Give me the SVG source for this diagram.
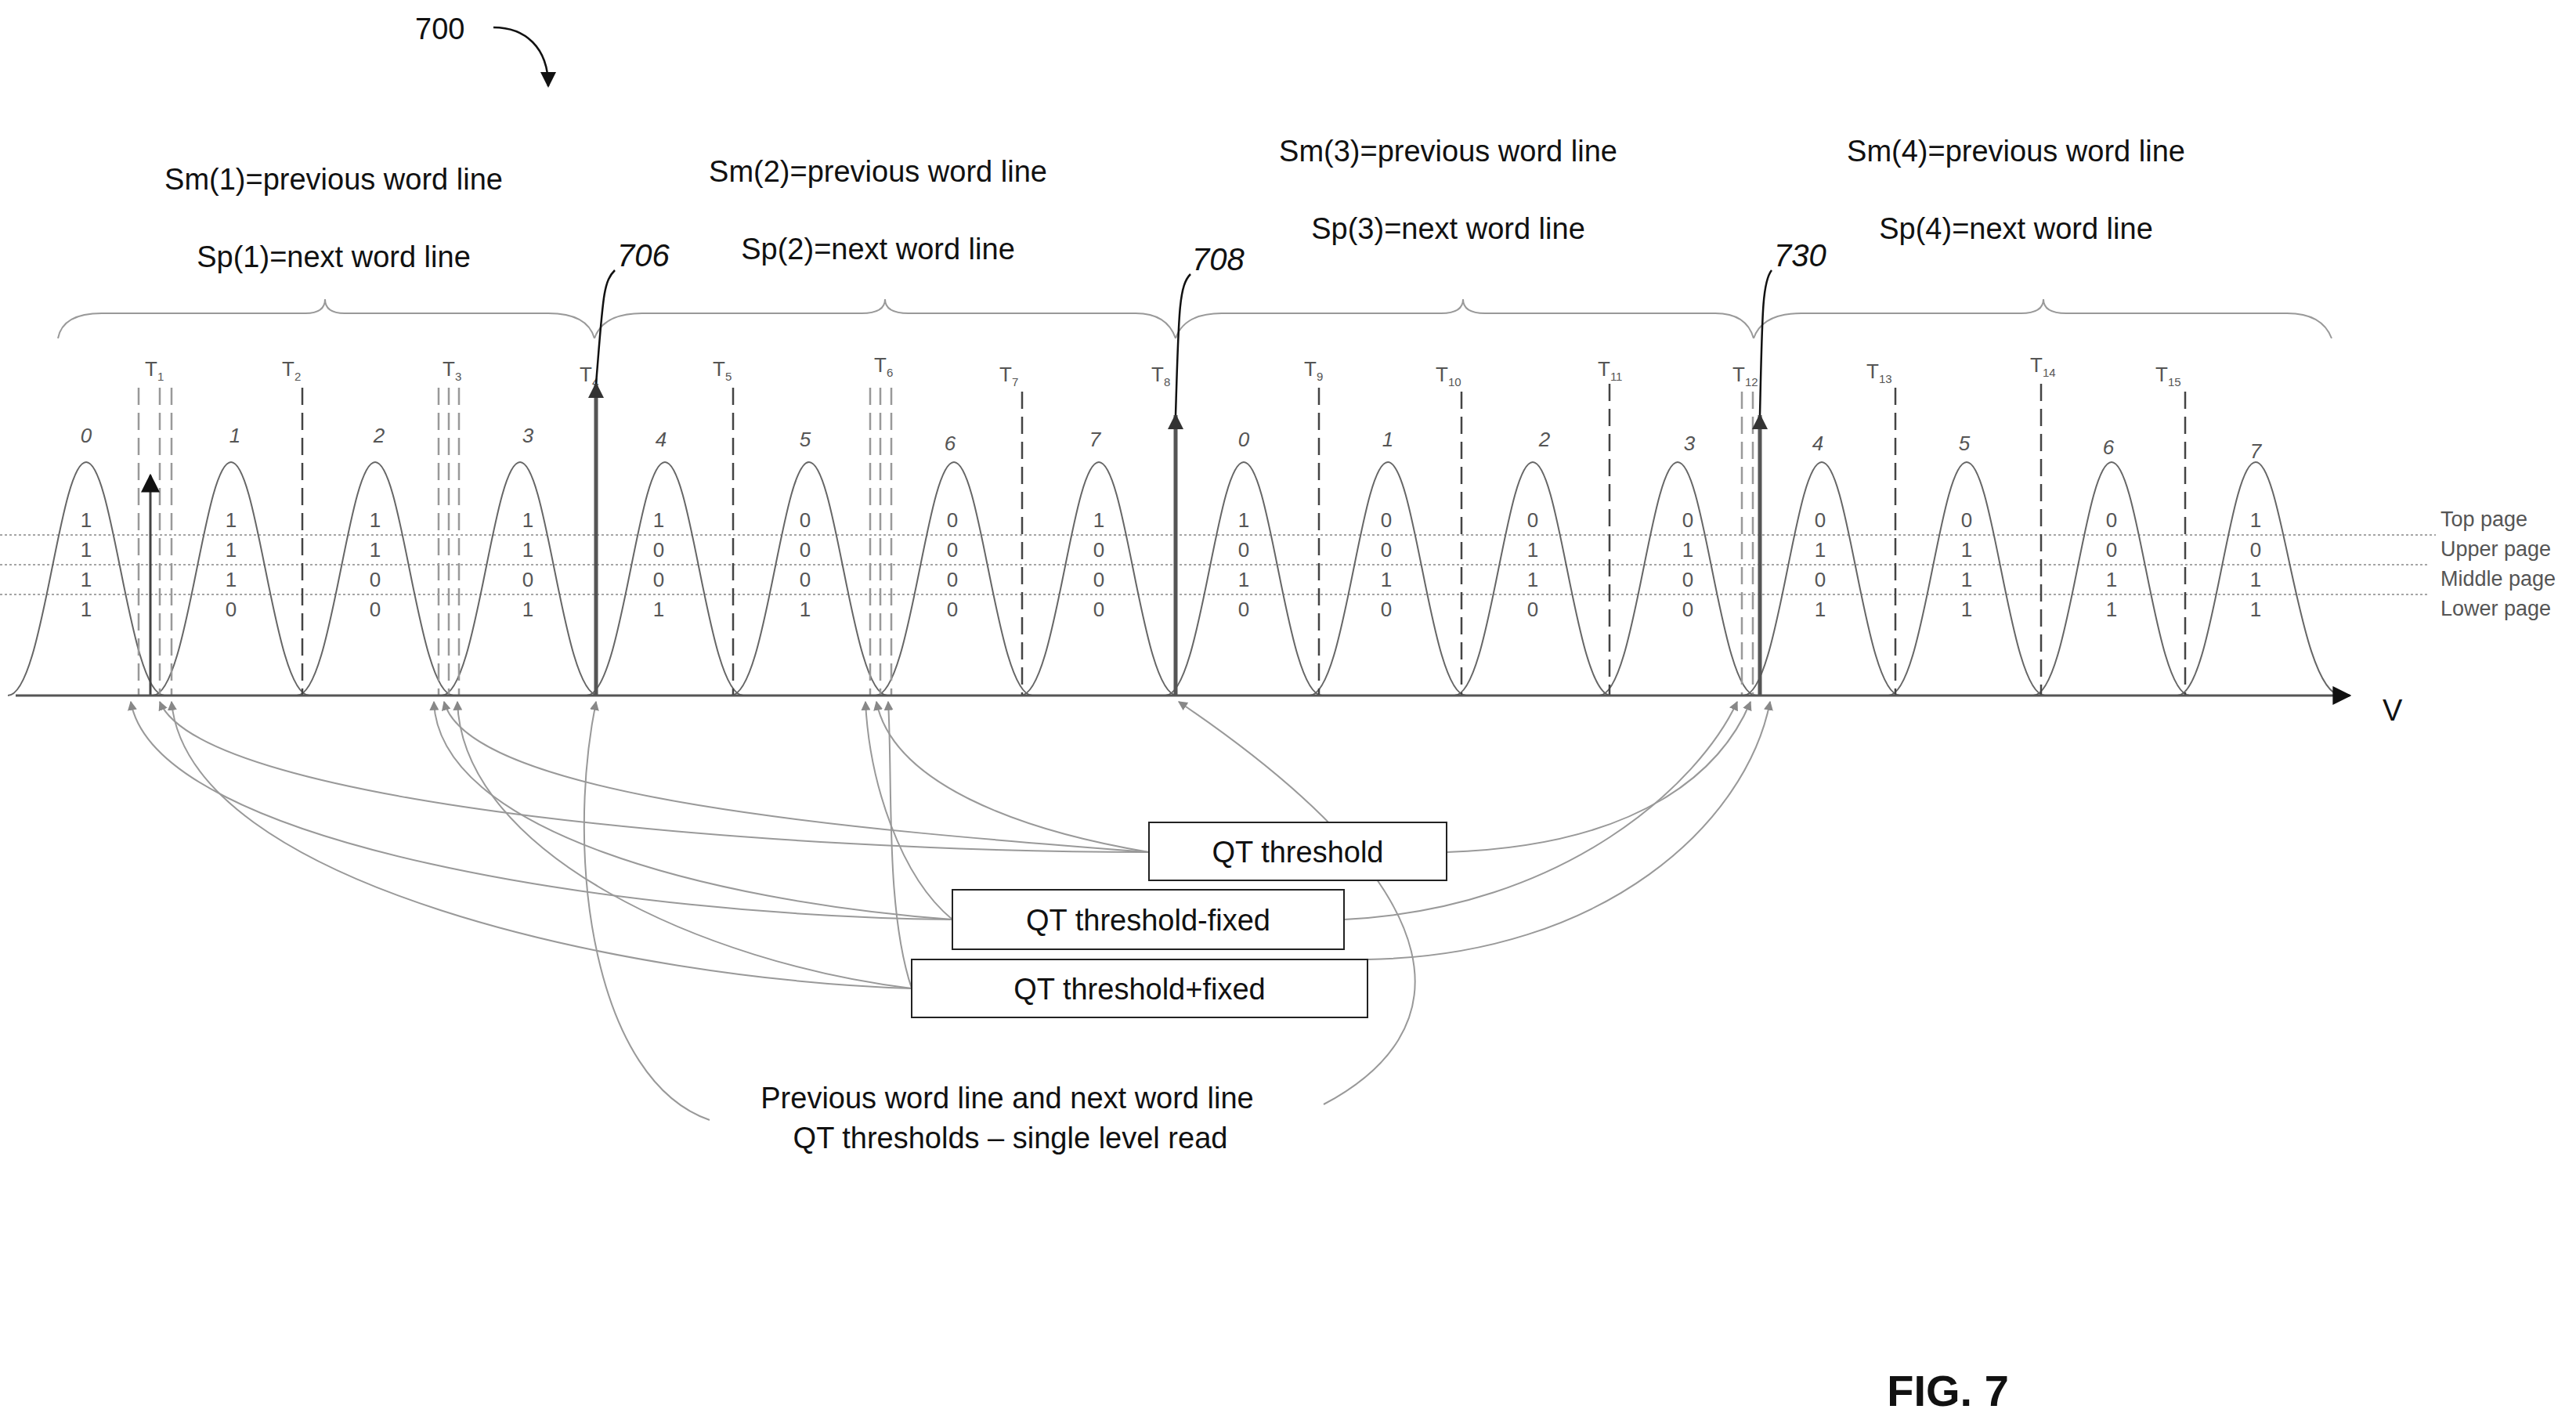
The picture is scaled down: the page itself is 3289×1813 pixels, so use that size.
<svg xmlns="http://www.w3.org/2000/svg" width="3289" height="1813" viewBox="0 0 3289 1813">
<style>
text{font-family:"Liberation Sans",Arial,sans-serif;fill:#111}
.t{font-size:38px}
.ref{font-size:40px;font-style:italic}
.bit{font-size:26px;fill:#555;text-anchor:middle}
.st{font-size:26px;fill:#555;font-style:italic;text-anchor:middle}
.tl{font-size:26px;fill:#555}
.pg{font-size:27px;fill:#555}
.bell{fill:none;stroke:#666;stroke-width:2}
.dash{stroke:#444;stroke-width:2.5;stroke-dasharray:22 10}
.gdash{stroke:#999;stroke-width:2.5;stroke-dasharray:22 10}
.dot{stroke:#888;stroke-width:1.5;stroke-dasharray:3 3}
.brace{fill:none;stroke:#999;stroke-width:2}
.con{fill:none;stroke:#999;stroke-width:2}
.box{fill:#fff;stroke:#222;stroke-width:2}
</style>
<defs>
<marker id="sa" viewBox="0 0 10 10" refX="9" refY="5" markerWidth="6" markerHeight="6" orient="auto"><path d="M0,0L10,5L0,10z" fill="#888"/></marker>
<marker id="ba" viewBox="0 0 10 10" refX="9" refY="5" markerWidth="4" markerHeight="4" orient="auto"><path d="M0,0L10,5L0,10z" fill="#333"/></marker>
<marker id="ka" viewBox="0 0 10 10" refX="9" refY="5" markerWidth="8" markerHeight="8" orient="auto"><path d="M0,0L10,5L0,10z" fill="#111"/></marker>
</defs>

<g id="title">
<text class="t" x="530" y="50">700</text>
<path d="M630,35 C670,35 700,60 700,110" fill="none" stroke="#111" stroke-width="2.5" marker-end="url(#ka)"/>
</g>

<g id="headers">
<text class="t" x="426" y="242" text-anchor="middle">Sm(1)=previous word line</text>
<text class="t" x="426" y="341" text-anchor="middle">Sp(1)=next word line</text>
<text class="t" x="1121" y="232" text-anchor="middle">Sm(2)=previous word line</text>
<text class="t" x="1121" y="331" text-anchor="middle">Sp(2)=next word line</text>
<text class="t" x="1849" y="206" text-anchor="middle">Sm(3)=previous word line</text>
<text class="t" x="1849" y="305" text-anchor="middle">Sp(3)=next word line</text>
<text class="t" x="2574" y="206" text-anchor="middle">Sm(4)=previous word line</text>
<text class="t" x="2574" y="305" text-anchor="middle">Sp(4)=next word line</text>
</g>

<g id="braces">
<path class="brace" d="M74,432 Q80,400 130,400 L390,400 Q415,400 415,382 Q415,400 440,400 L700,400 Q750,400 759,432"/>
<path class="brace" d="M759,432 Q770,400 820,400 L1100,400 Q1130,400 1130,382 Q1130,400 1160,400 L1450,400 Q1490,400 1501,432"/>
<path class="brace" d="M1501,432 Q1512,400 1560,400 L1840,400 Q1868,400 1868,382 Q1868,400 1896,400 L2190,400 Q2230,400 2239,432"/>
<path class="brace" d="M2239,432 Q2250,400 2300,400 L2580,400 Q2609,400 2609,382 Q2609,400 2638,400 L2920,400 Q2965,400 2977,432"/>
</g>

<g id="page-lines">
<line class="dot" x1="0" y1="683" x2="3110" y2="683"/>
<line class="dot" x1="0" y1="721" x2="3100" y2="721"/>
<line class="dot" x1="0" y1="759" x2="3100" y2="759"/>
<text class="pg" x="3116" y="672">Top page</text>
<text class="pg" x="3116" y="710">Upper page</text>
<text class="pg" x="3116" y="748">Middle page</text>
<text class="pg" x="3116" y="786">Lower page</text>
</g>

<g id="states">
<path class="bell" d="M10,888 C55,888 75,590 110,590 C145,590 165,888 210,888"/>
<path class="bell" d="M195,888 C240,888 260,590 295,590 C330,590 350,888 395,888"/>
<path class="bell" d="M379,888 C424,888 444,590 479,590 C514,590 534,888 579,888"/>
<path class="bell" d="M564,888 C609,888 629,590 664,590 C699,590 719,888 764,888"/>
<path class="bell" d="M749,888 C794,888 814,590 849,590 C884,590 904,888 949,888"/>
<path class="bell" d="M933,888 C978,888 998,590 1033,590 C1068,590 1088,888 1133,888"/>
<path class="bell" d="M1118,888 C1163,888 1183,590 1218,590 C1253,590 1273,888 1318,888"/>
<path class="bell" d="M1303,888 C1348,888 1368,590 1403,590 C1438,590 1458,888 1503,888"/>
<path class="bell" d="M1488,888 C1533,888 1553,590 1588,590 C1623,590 1643,888 1688,888"/>
<path class="bell" d="M1672,888 C1717,888 1737,590 1772,590 C1807,590 1827,888 1872,888"/>
<path class="bell" d="M1857,888 C1902,888 1922,590 1957,590 C1992,590 2012,888 2057,888"/>
<path class="bell" d="M2042,888 C2087,888 2107,590 2142,590 C2177,590 2197,888 2242,888"/>
<path class="bell" d="M2226,888 C2271,888 2291,590 2326,590 C2361,590 2381,888 2426,888"/>
<path class="bell" d="M2411,888 C2456,888 2476,590 2511,590 C2546,590 2566,888 2611,888"/>
<path class="bell" d="M2596,888 C2641,888 2661,590 2696,590 C2731,590 2751,888 2796,888"/>
<path class="bell" d="M2780,888 C2825,888 2845,590 2880,590 C2915,590 2935,888 2990,888"/>
<g class="st-labels">
<text class="st" x="110" y="565">0</text><text class="st" x="300" y="565">1</text><text class="st" x="484" y="565">2</text><text class="st" x="674" y="565">3</text>
<text class="st" x="844" y="570">4</text><text class="st" x="1028" y="570">5</text><text class="st" x="1213" y="575">6</text><text class="st" x="1398" y="570">7</text>
<text class="st" x="1588" y="570">0</text><text class="st" x="1772" y="570">1</text><text class="st" x="1972" y="570">2</text><text class="st" x="2157" y="575">3</text>
<text class="st" x="2321" y="575">4</text><text class="st" x="2508" y="575">5</text><text class="st" x="2692" y="580">6</text><text class="st" x="2880" y="585">7</text>
</g>
<g id="bits">
<text class="bit" x="110" y="673">1</text><text class="bit" x="110" y="711">1</text><text class="bit" x="110" y="749">1</text><text class="bit" x="110" y="787">1</text>
<text class="bit" x="295" y="673">1</text><text class="bit" x="295" y="711">1</text><text class="bit" x="295" y="749">1</text><text class="bit" x="295" y="787">0</text>
<text class="bit" x="479" y="673">1</text><text class="bit" x="479" y="711">1</text><text class="bit" x="479" y="749">0</text><text class="bit" x="479" y="787">0</text>
<text class="bit" x="674" y="673">1</text><text class="bit" x="674" y="711">1</text><text class="bit" x="674" y="749">0</text><text class="bit" x="674" y="787">1</text>
<text class="bit" x="841" y="673">1</text><text class="bit" x="841" y="711">0</text><text class="bit" x="841" y="749">0</text><text class="bit" x="841" y="787">1</text>
<text class="bit" x="1028" y="673">0</text><text class="bit" x="1028" y="711">0</text><text class="bit" x="1028" y="749">0</text><text class="bit" x="1028" y="787">1</text>
<text class="bit" x="1216" y="673">0</text><text class="bit" x="1216" y="711">0</text><text class="bit" x="1216" y="749">0</text><text class="bit" x="1216" y="787">0</text>
<text class="bit" x="1403" y="673">1</text><text class="bit" x="1403" y="711">0</text><text class="bit" x="1403" y="749">0</text><text class="bit" x="1403" y="787">0</text>
<text class="bit" x="1588" y="673">1</text><text class="bit" x="1588" y="711">0</text><text class="bit" x="1588" y="749">1</text><text class="bit" x="1588" y="787">0</text>
<text class="bit" x="1770" y="673">0</text><text class="bit" x="1770" y="711">0</text><text class="bit" x="1770" y="749">1</text><text class="bit" x="1770" y="787">0</text>
<text class="bit" x="1957" y="673">0</text><text class="bit" x="1957" y="711">1</text><text class="bit" x="1957" y="749">1</text><text class="bit" x="1957" y="787">0</text>
<text class="bit" x="2155" y="673">0</text><text class="bit" x="2155" y="711">1</text><text class="bit" x="2155" y="749">0</text><text class="bit" x="2155" y="787">0</text>
<text class="bit" x="2324" y="673">0</text><text class="bit" x="2324" y="711">1</text><text class="bit" x="2324" y="749">0</text><text class="bit" x="2324" y="787">1</text>
<text class="bit" x="2511" y="673">0</text><text class="bit" x="2511" y="711">1</text><text class="bit" x="2511" y="749">1</text><text class="bit" x="2511" y="787">1</text>
<text class="bit" x="2696" y="673">0</text><text class="bit" x="2696" y="711">0</text><text class="bit" x="2696" y="749">1</text><text class="bit" x="2696" y="787">1</text>
<text class="bit" x="2880" y="673">1</text><text class="bit" x="2880" y="711">0</text><text class="bit" x="2880" y="749">1</text><text class="bit" x="2880" y="787">1</text>
</g>
</g>

<g id="thresholds">
<line class="gdash" x1="177" y1="495" x2="177" y2="888"/><line class="gdash" x1="204" y1="495" x2="204" y2="888"/><line class="gdash" x1="219" y1="495" x2="219" y2="888"/>
<text class="tl" x="185" y="480">T<tspan font-size="15" dy="6">1</tspan></text>
<line class="dash" x1="386" y1="495" x2="386" y2="888"/>
<text class="tl" x="360" y="480">T<tspan font-size="15" dy="6">2</tspan></text>
<line class="gdash" x1="560" y1="495" x2="560" y2="888"/><line class="gdash" x1="573" y1="495" x2="573" y2="888"/><line class="gdash" x1="586" y1="495" x2="586" y2="888"/>
<text class="tl" x="565" y="480">T<tspan font-size="15" dy="6">3</tspan></text>
<text class="tl" x="740" y="487">T<tspan font-size="15" dy="6">4</tspan></text>
<line class="dash" x1="936" y1="495" x2="936" y2="888"/>
<text class="tl" x="910" y="480">T<tspan font-size="15" dy="6">5</tspan></text>
<line class="gdash" x1="1111" y1="495" x2="1111" y2="888"/><line class="gdash" x1="1124" y1="495" x2="1124" y2="888"/><line class="gdash" x1="1138" y1="495" x2="1138" y2="888"/>
<text class="tl" x="1116" y="475">T<tspan font-size="15" dy="6">6</tspan></text>
<line class="dash" x1="1305" y1="500" x2="1305" y2="888"/>
<text class="tl" x="1276" y="487">T<tspan font-size="15" dy="6">7</tspan></text>
<text class="tl" x="1470" y="487">T<tspan font-size="15" dy="6">8</tspan></text>
<line class="dash" x1="1684" y1="495" x2="1684" y2="888"/>
<text class="tl" x="1665" y="480">T<tspan font-size="15" dy="6">9</tspan></text>
<line class="dash" x1="1866" y1="500" x2="1866" y2="888"/>
<text class="tl" x="1833" y="487">T<tspan font-size="15" dy="6">10</tspan></text>
<line class="dash" x1="2055" y1="490" x2="2055" y2="888"/>
<text class="tl" x="2040" y="480">T<tspan font-size="15" dy="6">11</tspan></text>
<line class="gdash" x1="2224" y1="500" x2="2224" y2="888"/><line class="gdash" x1="2238" y1="500" x2="2238" y2="888"/>
<text class="tl" x="2212" y="487">T<tspan font-size="15" dy="6">12</tspan></text>
<line class="dash" x1="2420" y1="495" x2="2420" y2="888"/>
<text class="tl" x="2383" y="483">T<tspan font-size="15" dy="6">13</tspan></text>
<line class="dash" x1="2606" y1="490" x2="2606" y2="888"/>
<text class="tl" x="2592" y="475">T<tspan font-size="15" dy="6">14</tspan></text>
<line class="dash" x1="2790" y1="500" x2="2790" y2="888"/>
<text class="tl" x="2752" y="487">T<tspan font-size="15" dy="6">15</tspan></text>
</g>

<g id="read-arrows">
<line x1="192" y1="888" x2="192" y2="607" stroke="#444" stroke-width="3" marker-end="url(#ka)"/>
<line x1="761" y1="888" x2="761" y2="490" stroke="#555" stroke-width="5" marker-end="url(#ba)"/>
<line x1="1501" y1="888" x2="1501" y2="530" stroke="#555" stroke-width="5" marker-end="url(#ba)"/>
<line x1="2247" y1="888" x2="2247" y2="530" stroke="#555" stroke-width="5" marker-end="url(#ba)"/>
</g>

<g id="axis">
<line x1="20" y1="888" x2="3000" y2="888" stroke="#555" stroke-width="3" marker-end="url(#ka)"/>
<text class="t" x="3042" y="920" fill="#333">V</text>
</g>

<g id="refs">
<text class="ref" x="788" y="340">706</text>
<path d="M785,345 C770,360 770,380 761,490" fill="none" stroke="#111" stroke-width="2.5"/>
<text class="ref" x="1522" y="345">708</text>
<path d="M1520,350 C1505,365 1505,400 1501,530" fill="none" stroke="#111" stroke-width="2.5"/>
<text class="ref" x="2265" y="340">730</text>
<path d="M2262,345 C2250,360 2250,400 2247,530" fill="none" stroke="#111" stroke-width="2.5"/>
</g>

<g id="connectors">
<path class="con" marker-end="url(#sa)" d="M1467,1088 C1000,1088 260,1030 204,896"/>
<path class="con" marker-end="url(#sa)" d="M1467,1088 C1100,1060 600,1020 567,896"/>
<path class="con" marker-end="url(#sa)" d="M1467,1088 C1300,1060 1140,1000 1119,896"/>
<path class="con" marker-end="url(#sa)" d="M1847,1088 C2100,1080 2200,980 2235,896"/>
<path class="con" marker-end="url(#sa)" d="M1216,1174 C800,1170 200,1080 167,896"/>
<path class="con" marker-end="url(#sa)" d="M1216,1174 C900,1150 560,1060 554,896"/>
<path class="con" marker-end="url(#sa)" d="M1216,1174 C1150,1120 1110,1000 1105,896"/>
<path class="con" marker-end="url(#sa)" d="M1716,1174 C2000,1160 2170,1000 2218,896"/>
<path class="con" marker-end="url(#sa)" d="M1164,1262 C800,1250 240,1130 219,896"/>
<path class="con" marker-end="url(#sa)" d="M1164,1262 C900,1230 590,1090 584,896"/>
<path class="con" marker-end="url(#sa)" d="M1164,1262 C1130,1160 1140,1000 1134,896"/>
<path class="con" marker-end="url(#sa)" d="M1746,1225 C2050,1220 2230,1050 2260,896"/>
<path class="con" marker-end="url(#sa)" d="M906,1430 C760,1380 720,1100 761,896"/>
<path class="con" marker-end="url(#sa)" d="M1690,1410 C1860,1320 1880,1150 1505,896"/>
</g>

<g id="box-qt">
<rect class="box" x="1467" y="1050" width="380" height="74"/>
<text class="t" x="1657" y="1101" text-anchor="middle">QT threshold</text>
</g>
<g id="box-qt-minus">
<rect class="box" x="1216" y="1136" width="500" height="76"/>
<text class="t" x="1466" y="1188" text-anchor="middle">QT threshold-fixed</text>
</g>
<g id="box-qt-plus">
<rect class="box" x="1164" y="1225" width="582" height="74"/>
<text class="t" x="1455" y="1276" text-anchor="middle">QT threshold+fixed</text>
</g>

<g id="caption">
<text class="t" x="1286" y="1415" text-anchor="middle">Previous word line and next word line</text>
<text class="t" x="1290" y="1466" text-anchor="middle">QT thresholds – single level read</text>
</g>
<text x="2487" y="1795" font-size="56" font-weight="bold" text-anchor="middle" font-family="Liberation Sans,Arial,sans-serif">FIG. 7</text>
</svg>
